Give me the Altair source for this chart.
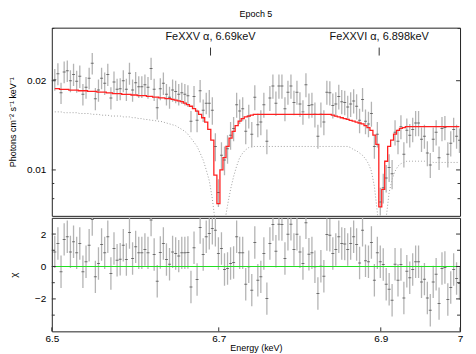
import altair as alt
import pandas as pd

FONT = "Liberation Sans"
W = 410
H_TOP = 189
H_BOT = 114

# channel grid (keV)
E_START = 6.5035
E_STEP = 0.0037

FLUX = [
    0.0202, 0.0211, 0.0182, 0.0214, 0.0216, 0.0200, 0.0210, 0.0199, 0.0207, 0.0180,
    0.0190, 0.0204, 0.0229, 0.0174, 0.0186, 0.0204, 0.0196, 0.0210, 0.0175, 0.0198,
    0.0187, 0.0188, 0.0200, 0.0187, 0.0212, 0.0186, 0.0197, 0.0191, 0.0191, 0.0194,
    0.0190, 0.0220, 0.0187, 0.0162, 0.0188, 0.0196, 0.0180, 0.0176, 0.0186, 0.0184,
    0.0180, 0.0182, 0.0180, 0.0178, 0.0146, 0.0177, 0.0147, 0.0185, 0.0159, 0.0168,
    0.0168, 0.0159, 0.0120, 0.0084, 0.0112, 0.0108, 0.0118, 0.0131, 0.0138, 0.0166,
    0.0158, 0.0161, 0.0135, 0.0152, 0.0132, 0.0176, 0.0142, 0.0145, 0.0166, 0.0125,
    0.0175, 0.0192, 0.0168, 0.0192, 0.0192, 0.0161, 0.0183, 0.0192, 0.0169, 0.0183,
    0.0167, 0.0157, 0.0194, 0.0165, 0.0166, 0.0154, 0.0130, 0.0154, 0.0145, 0.0183,
    0.0182, 0.0165, 0.0167, 0.0177, 0.0170, 0.0169, 0.0163, 0.0167, 0.0171, 0.0164,
    0.0147, 0.0173, 0.0146, 0.0143, 0.0155, 0.0120, 0.0132, 0.0078, 0.0087, 0.0094,
    0.0102, 0.0097, 0.0134, 0.0125, 0.0140, 0.0113, 0.0136, 0.0131, 0.0137, 0.0144,
    0.0144, 0.0127, 0.0130, 0.0114, 0.0104, 0.0127, 0.0134, 0.0110, 0.0138, 0.0139,
    0.0113, 0.0123, 0.0137, 0.0130, 0.0126,
]

FLUX_ERR = [
    0.0017, 0.0018, 0.0015, 0.0018, 0.0018, 0.0017, 0.0018, 0.0017, 0.0018, 0.0015,
    0.0016, 0.0017, 0.0019, 0.0015, 0.0016, 0.0017, 0.0017, 0.0018, 0.0015, 0.0017,
    0.0016, 0.0016, 0.0017, 0.0016, 0.0018, 0.0016, 0.0017, 0.0016, 0.0016, 0.0016,
    0.0016, 0.0019, 0.0016, 0.0014, 0.0016, 0.0017, 0.0015, 0.0015, 0.0016, 0.0016,
    0.0015, 0.0015, 0.0015, 0.0015, 0.0012, 0.0015, 0.0013, 0.0016, 0.0014, 0.0014,
    0.0018, 0.0017, 0.0013, 0.0009, 0.0012, 0.0012, 0.0013, 0.0014, 0.0013, 0.0016,
    0.0015, 0.0015, 0.0013, 0.0014, 0.0013, 0.0017, 0.0013, 0.0014, 0.0016, 0.0012,
    0.0017, 0.0018, 0.0016, 0.0018, 0.0018, 0.0015, 0.0017, 0.0018, 0.0016, 0.0017,
    0.0016, 0.0015, 0.0018, 0.0016, 0.0016, 0.0015, 0.0012, 0.0015, 0.0014, 0.0017,
    0.0017, 0.0016, 0.0016, 0.0017, 0.0016, 0.0016, 0.0015, 0.0016, 0.0016, 0.0016,
    0.0014, 0.0016, 0.0014, 0.0014, 0.0015, 0.0011, 0.0013, 0.0009, 0.0010, 0.0010,
    0.0011, 0.0011, 0.0013, 0.0012, 0.0013, 0.0011, 0.0013, 0.0012, 0.0013, 0.0014,
    0.0014, 0.0012, 0.0012, 0.0011, 0.0010, 0.0012, 0.0013, 0.0010, 0.0013, 0.0013,
    0.0011, 0.0012, 0.0013, 0.0012, 0.0012,
]

MODEL = [
    0.0188, 0.0188, 0.0187, 0.0187, 0.0187, 0.0186, 0.0186, 0.0186, 0.0185, 0.0185,
    0.0185, 0.0184, 0.0184, 0.0184, 0.0183, 0.0183, 0.0183, 0.0182, 0.0182, 0.0181,
    0.0181, 0.0181, 0.0180, 0.0180, 0.0180, 0.0179, 0.0179, 0.0178, 0.0178, 0.0178,
    0.0177, 0.0177, 0.0176, 0.0176, 0.0175, 0.0175, 0.0174, 0.0174, 0.0173, 0.0172,
    0.0171, 0.0170, 0.0168, 0.0166, 0.0164, 0.0161, 0.0158, 0.0154, 0.0150, 0.0145,
    0.0137, 0.0126, 0.0096, 0.0077, 0.0100, 0.0110, 0.0120, 0.0128, 0.0135, 0.0141,
    0.0146, 0.0149, 0.0151, 0.0152, 0.0153, 0.0154, 0.0154, 0.0154, 0.0154, 0.0154,
    0.0154, 0.0154, 0.0154, 0.0154, 0.0154, 0.0154, 0.0154, 0.0154, 0.0154, 0.0154,
    0.0154, 0.0154, 0.0154, 0.0154, 0.0154, 0.0154, 0.0154, 0.0154, 0.0154, 0.0154,
    0.0154, 0.0153, 0.0152, 0.0151, 0.0150, 0.0149, 0.0148, 0.0147, 0.0146, 0.0145,
    0.0144, 0.0143, 0.0141, 0.0139, 0.0136, 0.0131, 0.0122, 0.0075, 0.0086, 0.0107,
    0.0120, 0.0126, 0.0132, 0.0136, 0.0138, 0.0139, 0.0140, 0.0140, 0.0140, 0.0140,
    0.0140, 0.0140, 0.0140, 0.0140, 0.0140, 0.0140, 0.0140, 0.0140, 0.0140, 0.0140,
    0.0140, 0.0140, 0.0140, 0.0140, 0.0140,
]

CONT = [
    0.0157, 0.0157, 0.0157, 0.0156, 0.0156, 0.0156, 0.0156, 0.0156, 0.0155, 0.0155,
    0.0155, 0.0155, 0.0154, 0.0154, 0.0154, 0.0153, 0.0153, 0.0153, 0.0152, 0.0152,
    0.0152, 0.0152, 0.0151, 0.0151, 0.0151, 0.0150, 0.0150, 0.0149, 0.0149, 0.0148,
    0.0148, 0.0147, 0.0147, 0.0146, 0.0146, 0.0145, 0.0144, 0.0143, 0.0142, 0.0141,
    0.0139, 0.0137, 0.0135, 0.0132, 0.0128, 0.0124, 0.0120, 0.0114, 0.0108, 0.0100,
    0.0092, 0.0080, 0.0066, 0.0055, 0.0058, 0.0066, 0.0076, 0.0086, 0.0095, 0.0103,
    0.0110, 0.0114, 0.0117, 0.0119, 0.0120, 0.0120, 0.0120, 0.0120, 0.0120, 0.0120,
    0.0120, 0.0120, 0.0120, 0.0120, 0.0120, 0.0120, 0.0120, 0.0120, 0.0120, 0.0120,
    0.0120, 0.0120, 0.0120, 0.0120, 0.0120, 0.0120, 0.0120, 0.0120, 0.0120, 0.0120,
    0.0120, 0.0120, 0.0120, 0.0120, 0.0120, 0.0120, 0.0120, 0.0119, 0.0117, 0.0116,
    0.0114, 0.0112, 0.0109, 0.0105, 0.0099, 0.0088, 0.0072, 0.0055, 0.0058, 0.0069,
    0.0084, 0.0093, 0.0099, 0.0103, 0.0105, 0.0106, 0.0107, 0.0107, 0.0107, 0.0107,
    0.0107, 0.0107, 0.0107, 0.0107, 0.0107, 0.0106, 0.0106, 0.0106, 0.0106, 0.0106,
    0.0106, 0.0106, 0.0106, 0.0106, 0.0106,
]

RESID = [
    0.90, 1.42, -0.33, 1.67, 1.83, 0.90, 1.52, 0.84, 1.42, -0.33,
    0.29, 1.31, 2.90, -0.64, 0.18, 1.36, 0.84, 1.83, -0.43, 1.11,
    0.39, 0.45, 1.31, 0.43, 2.10, 0.49, 1.21, 0.84, 0.84, 1.05,
    0.84, 2.86, 0.74, -0.91, 0.86, 1.42, 0.43, 0.14, 0.90, 0.80,
    0.64, 0.84, 0.84, 0.86, -1.26, 1.15, -0.80, 2.40, 0.74, 1.83,
    2.04, 2.35, 2.24, 0.80, 1.11, -0.19, -0.12, 0.18, 0.25, 1.83,
    0.84, 0.84, -1.09, -0.02, -1.46, 1.48, -0.85, -0.64, 0.80, -1.98,
    1.42, 2.59, 0.94, 2.61, 2.59, 0.49, 1.99, 2.61, 1.05, 1.99,
    0.90, 0.18, 2.70, 0.76, 0.84, -0.02, -1.67, 0.02, -0.60, 1.97,
    1.93, 0.80, 1.05, 1.83, 1.42, 1.38, 1.05, 1.42, 1.83, 1.36,
    0.22, 2.24, 0.35, 0.29, 1.48, -0.85, 0.84, 0.29, 0.12, -1.09,
    -1.40, -2.08, 0.14, -0.85, 0.12, -1.94, -0.29, -0.70, -0.19, 0.29,
    0.29, -0.95, -0.78, -1.94, -2.70, -0.95, -0.48, -2.29, -0.12, -0.06,
    -2.04, -1.30, -0.19, -0.74, -1.05,
]

LINE_E = [6.69, 6.898]
LINE_LABEL = ["FeXXV \u03b1, 6.69keV", "FeXXVI \u03b1, 6.898keV"]

X_DOMAIN = [6.5, 7.0]
Y_DOMAIN = [0.007, 0.0302]
R_DOMAIN = [-4, 3]
X_TICKS = [6.5, 6.7, 6.9, 7.0]
Y_MAJOR = [0.01, 0.02]
Y_MINOR = [0.008, 0.009, 0.03]
R_MAJOR = [-2, 0, 2]
R_MINOR = [-3, -1, 1]
ZERO = [0]

energy = [round(E_START + E_STEP * i, 4) for i in range(len(FLUX))]
df = pd.DataFrame({"E": energy, "flux": FLUX, "err": FLUX_ERR, "model": MODEL,
                   "cont": CONT, "res": RESID})
ann = pd.DataFrame({"E": LINE_E, "label": LINE_LABEL})

xscale = alt.Scale(type="log", domain=X_DOMAIN, nice=False)
yscale = alt.Scale(type="log", domain=Y_DOMAIN, nice=False)
rscale = alt.Scale(domain=R_DOMAIN, nice=False, zero=False)

yaxis = alt.Axis(values=Y_MAJOR, format=".2f", tickSize=0, domain=False, grid=False,
                 labelPadding=6, labelFontSize=10, labelFont=FONT, labelColor="#000",
                 labelFlush=False, labelOverlap=False,
                 title="Photons cm\u207b\u00b2 s\u207b\u00b9 keV\u207b\u00b9",
                 titleFont=FONT, titleFontSize=9, titleFontWeight="normal",
                 titleColor="#000", titlePadding=9)
raxis = alt.Axis(values=R_MAJOR, format="d", tickSize=0, domain=False, grid=False,
                 labelPadding=6, labelFontSize=10, labelFont=FONT, labelColor="#000",
                 labelFlush=False, labelOverlap=False,
                 title="\u03c7", titleFont=FONT, titleFontSize=10, titleFontWeight="normal",
                 titleColor="#000", titlePadding=16)
xaxis = alt.Axis(values=X_TICKS, format="~g", tickSize=0, domain=False, grid=False,
                 labelPadding=2, labelFontSize=10, labelFont=FONT, labelColor="#000",
                 labelFlush=False, labelOverlap=False,
                 title="Energy (keV)", titleFont=FONT, titleFontSize=9,
                 titleFontWeight="normal", titleColor="#000", titlePadding=0)

base = alt.Chart(df).transform_calculate(
    lo="datum.flux - datum.err", hi="datum.flux + datum.err",
    rlo="datum.res - 1", rhi="datum.res + 1")

X_top = alt.X("E:Q", scale=xscale, axis=None)

cont_line = base.mark_line(color="#a0a0a0", strokeDash=[1, 2], strokeWidth=1, clip=True).encode(
    x=X_top, y=alt.Y("cont:Q", scale=yscale, axis=yaxis))
bars = base.mark_rule(color="#b4b4b4", strokeWidth=1.3, clip=True).encode(
    x=X_top, y=alt.Y("lo:Q", scale=yscale, axis=yaxis), y2="hi:Q")
dticks = base.mark_tick(orient="horizontal", color="#444444", thickness=1, size=3, clip=True).encode(
    x=X_top, y=alt.Y("flux:Q", scale=yscale, axis=yaxis))
model = base.mark_line(color="#ff2020", strokeWidth=1.3, interpolate="step", clip=True).encode(
    x=X_top, y=alt.Y("model:Q", scale=yscale, axis=yaxis))
ann_text = alt.Chart(ann).mark_text(font=FONT, fontSize=11, baseline="middle", color="#111").encode(
    x=X_top, y=alt.value(9), text="label:N")
ann_rule = alt.Chart(ann).mark_rule(color="#333333", strokeWidth=1).encode(
    x=X_top, y=alt.value(20), y2=alt.value(28))

ymaj = pd.DataFrame({"v": Y_MAJOR})
ymin = pd.DataFrame({"v": Y_MINOR})
Yt = alt.Y("v:Q", scale=yscale, axis=yaxis)
tick_style = dict(color="#333333", strokeWidth=1)
yt1 = alt.Chart(ymaj).mark_rule(**tick_style).encode(y=Yt, x=alt.value(0), x2=alt.value(4))
yt2 = alt.Chart(ymaj).mark_rule(**tick_style).encode(y=Yt, x=alt.value(W), x2=alt.value(W - 4))
yt3 = alt.Chart(ymin).mark_rule(**tick_style, clip=True).encode(y=Yt, x=alt.value(0), x2=alt.value(2.5))
yt4 = alt.Chart(ymin).mark_rule(**tick_style, clip=True).encode(y=Yt, x=alt.value(W), x2=alt.value(W - 2.5))

top = alt.layer(cont_line, bars, dticks, model, ann_rule, ann_text, yt1, yt2, yt3, yt4).properties(
    width=W, height=H_TOP,
    title=alt.TitleParams(text="Epoch 5", font=FONT, fontSize=9, fontWeight="normal",
                          color="#000", anchor="middle", frame="group", offset=9))

X_bot = alt.X("E:Q", scale=xscale, axis=xaxis)
rbars = base.mark_rule(color="#b4b4b4", strokeWidth=1.3, clip=True).encode(
    x=X_bot, y=alt.Y("rlo:Q", scale=rscale, axis=raxis), y2="rhi:Q")
rticks = base.mark_tick(orient="horizontal", color="#444444", thickness=1, size=3, clip=True).encode(
    x=X_bot, y=alt.Y("res:Q", scale=rscale, axis=raxis))
zero = alt.Chart(pd.DataFrame({"z": ZERO})).mark_rule(color="#22e022", strokeWidth=1.2).encode(
    y=alt.Y("z:Q", scale=rscale, axis=raxis))

rmaj = pd.DataFrame({"v": R_MAJOR})
rmin = pd.DataFrame({"v": R_MINOR})
Rt = alt.Y("v:Q", scale=rscale, axis=raxis)
rt1 = alt.Chart(rmaj).mark_rule(**tick_style).encode(y=Rt, x=alt.value(0), x2=alt.value(4))
rt2 = alt.Chart(rmaj).mark_rule(**tick_style).encode(y=Rt, x=alt.value(W), x2=alt.value(W - 4))
rt3 = alt.Chart(rmin).mark_rule(**tick_style).encode(y=Rt, x=alt.value(0), x2=alt.value(3))
rt4 = alt.Chart(rmin).mark_rule(**tick_style).encode(y=Rt, x=alt.value(W), x2=alt.value(W - 3))
xt = alt.Chart(pd.DataFrame({"v": X_TICKS})).mark_rule(**tick_style).encode(
    x=alt.X("v:Q", scale=xscale, axis=xaxis), y=alt.value(H_BOT), y2=alt.value(H_BOT - 4))

bottom = alt.layer(rbars, rticks, zero, rt1, rt2, rt3, rt4, xt).properties(width=W, height=H_BOT)

chart = alt.vconcat(top, bottom, spacing=0).properties(
    padding={"left": 0, "top": 0, "right": 4, "bottom": 0},
    background="white",
).configure_view(stroke="#222222", strokeWidth=1).configure_concat(spacing=0)

chart.save("out.html", embed_options={"renderer": "svg", "actions": False})
